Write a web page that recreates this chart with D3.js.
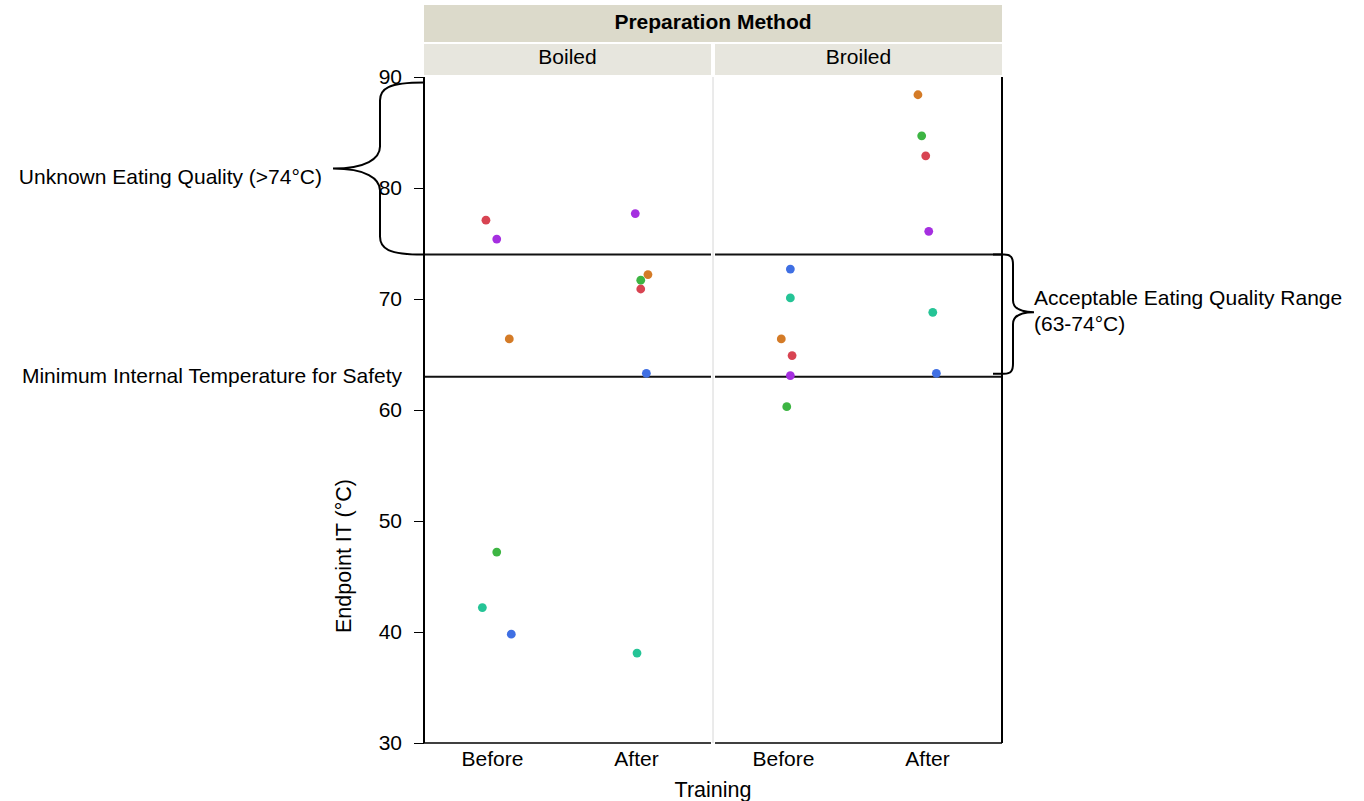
<!DOCTYPE html>
<html>
<head>
<meta charset="utf-8">
<script src="https://cdn.jsdelivr.net/npm/d3@7"></script>
<style>
  body { margin: 0; background: #fff; }
  text { font-family: "Liberation Sans", Arial, sans-serif; fill: #000; }
</style>
</head>
<body>
<div id="chart"></div>
<script>

// data
const methods = ['Boiled', 'Broiled'];
const trainings = ['Before', 'After'];
const subjects = ['S1', 'S2', 'S3', 'S4', 'S5', 'S6'];
const subjectColors = ['#d84452', '#a52fe0', '#d47b27', '#3db543', '#25c496', '#3f6fe3'];

// endpoint temperature (°C) per subject, in the order of subjects
const boiledBefore = [77.1, 75.4, 66.4, 47.2, 42.2, 39.8];
const boiledAfter = [70.9, 77.7, 72.2, 71.7, 38.1, 63.3];
const broiledBefore = [64.9, 63.1, 66.4, 60.3, 70.1, 72.7];
const broiledAfter = [82.9, 76.1, 88.4, 84.7, 68.8, 63.3];

// horizontal jitter, as a fraction of the category step
const jitterBoiledBefore = [-0.042, 0.033, 0.12, 0.033, -0.067, 0.134];
const jitterBoiledAfter = [0.033, -0.005, 0.083, 0.033, 0.007, 0.072];
const jitterBroiledBefore = [0.063, 0.051, -0.012, 0.026, 0.051, 0.051];
const jitterBroiledAfter = [-0.009, 0.012, -0.063, -0.037, 0.04, 0.065];

const yTicks = [30, 40, 50, 60, 70, 80, 90];
const safeMin = 63;
const qualityMax = 74;
const braceTop = 89.5;

function drawChart(selector) {

  const width = 1364;
  const height = 801;
  const left = 424, right = 1002, top = 77, bottom = 743;
  const fs = '21px';

  const series = [
    { method: 'Boiled', training: 'Before', values: boiledBefore, jitter: jitterBoiledBefore },
    { method: 'Boiled', training: 'After', values: boiledAfter, jitter: jitterBoiledAfter },
    { method: 'Broiled', training: 'Before', values: broiledBefore, jitter: jitterBroiledBefore },
    { method: 'Broiled', training: 'After', values: broiledAfter, jitter: jitterBroiledAfter }
  ];

  const points = [];
  series.forEach((s) => {
    s.values.forEach((v, i) => {
      points.push({ method: s.method, training: s.training, value: v, jitter: s.jitter[i], subject: subjects[i] });
    });
  });

  const svg = d3.select(selector)
    .append('svg')
    .attr('width', width)
    .attr('height', height);

  const panel = d3.scaleBand()
    .domain(methods)
    .range([left, right])
    .paddingInner(4 / 289);

  const x = d3.scalePoint()
    .domain(trainings)
    .range([68, 212]);

  const y = d3.scaleLinear()
    .domain([30, 90])
    .range([bottom, top]);

  const color = d3.scaleOrdinal()
    .domain(subjects)
    .range(subjectColors);

  // strips
  svg.append('rect')
    .attr('x', left)
    .attr('y', 5)
    .attr('width', right - left)
    .attr('height', 37)
    .attr('fill', '#dcdacb');

  svg.append('text')
    .attr('x', (left + right) / 2)
    .attr('y', 22)
    .attr('dy', '0.35em')
    .attr('text-anchor', 'middle')
    .attr('font-weight', 700)
    .attr('font-size', fs)
    .text('Preparation Method');

  const facets = svg.selectAll('g.facet')
    .data(methods)
    .enter()
    .append('g')
    .attr('class', 'facet')
    .attr('transform', (d) => `translate(${panel(d)},0)`);

  facets.append('rect')
    .attr('x', 0)
    .attr('y', 44)
    .attr('width', panel.bandwidth())
    .attr('height', 31)
    .attr('fill', '#e7e6de');

  facets.append('text')
    .attr('x', panel.bandwidth() / 2)
    .attr('y', 57)
    .attr('dy', '0.35em')
    .attr('text-anchor', 'middle')
    .attr('font-size', fs)
    .text((d) => d);

  // divider between panels
  svg.append('line')
    .attr('x1', (panel('Boiled') + panel.bandwidth() + panel('Broiled')) / 2)
    .attr('x2', (panel('Boiled') + panel.bandwidth() + panel('Broiled')) / 2)
    .attr('y1', top)
    .attr('y2', bottom)
    .attr('stroke', '#d6d6d6')
    .attr('stroke-width', 1);

  // reference lines
  facets.selectAll('line.ref')
    .data([qualityMax, safeMin])
    .enter()
    .append('line')
    .attr('class', 'ref')
    .attr('x1', 0)
    .attr('x2', panel.bandwidth())
    .attr('y1', (d) => y(d))
    .attr('y2', (d) => y(d))
    .attr('stroke', '#111')
    .attr('stroke-width', 2);

  // bottom axis per panel
  facets.append('g')
    .attr('transform', `translate(0,${bottom})`)
    .call(d3.axisBottom(x).tickSize(0).tickPadding(8))
    .call((g) => g.select('.domain').attr('d', `M0,0H${panel.bandwidth()}`).attr('stroke', '#000').attr('stroke-width', 1.5))
    .call((g) => g.selectAll('text').attr('font-size', fs).attr('font-family', '"Liberation Sans", Arial, sans-serif').attr('fill', '#000'));

  // left axis
  svg.append('g')
    .attr('transform', `translate(${left},0)`)
    .call(d3.axisLeft(y).tickValues(yTicks).tickSize(10).tickPadding(12))
    .call((g) => g.select('.domain').attr('d', `M0,${top}V${bottom}`).attr('stroke', '#000').attr('stroke-width', 2))
    .call((g) => g.selectAll('.tick line').attr('stroke', '#000'))
    .call((g) => g.selectAll('text').attr('font-size', fs).attr('font-family', '"Liberation Sans", Arial, sans-serif').attr('fill', '#000'));

  // right border
  svg.append('line')
    .attr('x1', right)
    .attr('x2', right)
    .attr('y1', top)
    .attr('y2', bottom)
    .attr('stroke', '#000')
    .attr('stroke-width', 2);

  // points
  svg.append('g')
    .selectAll('circle')
    .data(points)
    .enter()
    .append('circle')
    .attr('cx', (d) => panel(d.method) + x(d.training) + d.jitter * x.step())
    .attr('cy', (d) => y(d.value))
    .attr('r', 4.4)
    .attr('fill', (d) => color(d.subject));

  // left brace: unknown eating quality
  const lt = y(braceTop), lb = y(qualityMax), lm = (lt + lb) / 2;
  const bx = left - 44, tipX = left - 91;
  svg.append('path')
    .attr('fill', 'none')
    .attr('stroke', '#000')
    .attr('stroke-width', 2)
    .attr('d', `M${left},${lt} C${bx + 8},${lt} ${bx},${lt + 6} ${bx},${lt + 18}
      L${bx},${lm - 22} C${bx},${lm - 10} ${bx - 14},${lm} ${tipX},${lm}
      C${bx - 14},${lm} ${bx},${lm + 10} ${bx},${lm + 22}
      L${bx},${lb - 18} C${bx},${lb - 6} ${bx + 8},${lb} ${left},${lb}`);

  svg.append('text')
    .attr('x', tipX - 11)
    .attr('y', lm + 8)
    .attr('dy', '0.35em')
    .attr('text-anchor', 'end')
    .attr('font-size', fs)
    .text('Unknown Eating Quality (>74°C)');

  svg.append('text')
    .attr('x', 402)
    .attr('y', y(safeMin) - 1)
    .attr('dy', '0.35em')
    .attr('text-anchor', 'end')
    .attr('font-size', fs)
    .text('Minimum Internal Temperature for Safety');

  // right brace: acceptable range
  const rt = y(qualityMax), rb = y(safeMin) - 3, rm = (rt + rb) / 2 - 2;
  const rx = right + 11, rTip = right + 32, rs = right - 9;
  svg.append('path')
    .attr('fill', 'none')
    .attr('stroke', '#000')
    .attr('stroke-width', 2)
    .attr('d', `M${rs},${rt} L${right + 2},${rt} C${rx - 2},${rt} ${rx},${rt + 3} ${rx},${rt + 10}
      L${rx},${rm - 12} C${rx},${rm - 4} ${rx + 8},${rm} ${rTip},${rm}
      C${rx + 8},${rm} ${rx},${rm + 4} ${rx},${rm + 12}
      L${rx},${rb - 10} C${rx},${rb - 3} ${rx - 2},${rb} ${right + 2},${rb} L${rs},${rb}`);

  svg.append('text')
    .attr('x', 1034)
    .attr('y', 298)
    .attr('dy', '0.35em')
    .attr('font-size', fs)
    .text('Acceptable Eating Quality Range');

  svg.append('text')
    .attr('x', 1034)
    .attr('y', 324)
    .attr('dy', '0.35em')
    .attr('font-size', fs)
    .text('(63-74°C)');

  // axis titles
  svg.append('text')
    .attr('transform', 'translate(343,556) rotate(-90)')
    .attr('dy', '0.35em')
    .attr('text-anchor', 'middle')
    .attr('font-size', '21.5px')
    .text('Endpoint IT (°C)');

  svg.append('text')
    .attr('x', (left + right) / 2)
    .attr('y', 789)
    .attr('dy', '0.35em')
    .attr('text-anchor', 'middle')
    .attr('font-size', '21.5px')
    .text('Training');
}

drawChart('#chart');
</script>
</body>
</html>
